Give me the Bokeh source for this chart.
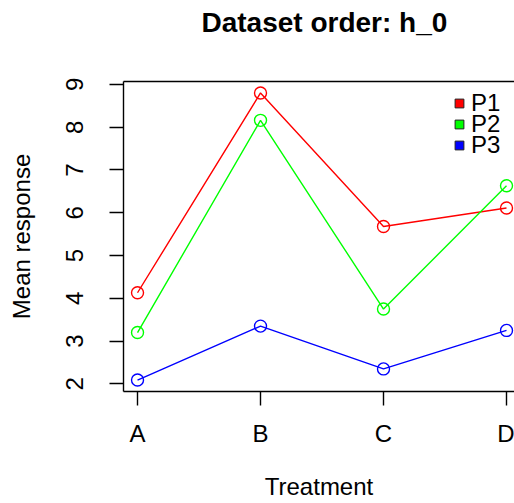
from bokeh.plotting import figure
from bokeh.models import Range1d, FixedTicker, Legend, LegendItem, LinearAxis
from bokeh.embed import file_html
from bokeh.resources import INLINE

categories = ["A", "B", "C", "D"]
p1 = [4.13, 8.80, 5.68, 6.11]
p2 = [3.20, 8.16, 3.75, 6.63]
p3 = [2.09, 3.35, 2.35, 3.25]
series_names = ["P1", "P2", "P3"]
series_colors = ["#FF0000", "#00FF00", "#0000FF"]
y_ticks = [2, 3, 4, 5, 6, 7, 8, 9]

xs = list(range(1, len(categories) + 1))
all_vals = p1 + p2 + p3
lo, hi = min(all_vals), max(all_vals)
pad = 0.04 * (hi - lo)
y_lo, y_hi = lo - pad, hi + pad

FONT = "Liberation Sans"
FS = "24px"

p = figure(width=514, height=503, output_backend="svg", toolbar_location=None,
           x_range=Range1d(0.886, 4.065), y_range=Range1d(y_lo, y_hi),
           min_border_left=123, min_border_right=0, min_border_top=81, min_border_bottom=112)
p.background_fill_color = "white"
p.border_fill_color = "white"
p.outline_line_color = None
p.xgrid.visible = False
p.ygrid.visible = False

xaxis = p.below[0]
yaxis = p.left[0]

p.title.text = "Dataset order: h_0"
p.title.align = "left"
p.title.text_font = FONT
p.title.text_font_size = "28px"
p.title.text_font_style = "bold"
p.title.text_color = "black"
p.title.standoff = 0
p.title.offset = 78

# top border line (also spaces the title away from the frame)
top_axis = LinearAxis(ticker=FixedTicker(ticks=[]), axis_line_color="black", axis_line_width=1.4,
                      major_tick_in=0, major_tick_out=0, major_label_standoff=0,
                      axis_label=" ", axis_label_text_font_size="10px",
                      axis_label_text_color=None, axis_label_standoff=30)
p.add_layout(top_axis, "above")

for ax in (xaxis, yaxis):
    ax.axis_line_color = "black"
    ax.axis_line_width = 1.4
    ax.major_tick_line_color = "black"
    ax.major_tick_line_width = 1.4
    ax.major_tick_in = 0
    ax.major_tick_out = 14
    ax.minor_tick_line_color = None
    ax.major_label_text_font = FONT
    ax.major_label_text_font_size = FS
    ax.major_label_text_color = "black"
    ax.axis_label_text_font = FONT
    ax.axis_label_text_font_size = FS
    ax.axis_label_text_font_style = "normal"
    ax.axis_label_text_color = "black"

xaxis.ticker = FixedTicker(ticks=xs)
xaxis.major_label_overrides = {x: c for x, c in zip(xs, categories)}
xaxis.axis_label = "Treatment"
xaxis.major_label_standoff = 14
xaxis.axis_label_standoff = 23

yaxis.ticker = FixedTicker(ticks=y_ticks)
yaxis.major_label_orientation = "vertical"
yaxis.axis_label = "Mean response"
yaxis.major_label_standoff = 26
yaxis.axis_label_standoff = 29

legend_renderers = []
for name, vals, col in zip(series_names, [p1, p2, p3], series_colors):
    p.line(xs, vals, line_color=col, line_width=1.4)
    p.scatter(xs, vals, marker="circle", size=12, fill_color=None, line_color=col, line_width=1.4)
    r = p.scatter(xs, vals, marker="square", size=9, fill_color=col, line_color="#222222",
                  line_width=1, visible=False)
    legend_renderers.append(r)

legend_rows_y = [273, 252, 231]
for name, r, ly in zip(series_names, legend_renderers, legend_rows_y):
    lg = Legend(items=[LegendItem(label=name, renderers=[r])], location=(325, ly),
                padding=0, margin=0, spacing=0,
                glyph_width=22, glyph_height=30, label_height=30, label_standoff=1,
                label_text_font=FONT, label_text_font_size=FS, label_text_color="black",
                border_line_color=None, background_fill_alpha=0)
    p.add_layout(lg, "center")

open("out.html", "w").write(file_html(p, INLINE))
